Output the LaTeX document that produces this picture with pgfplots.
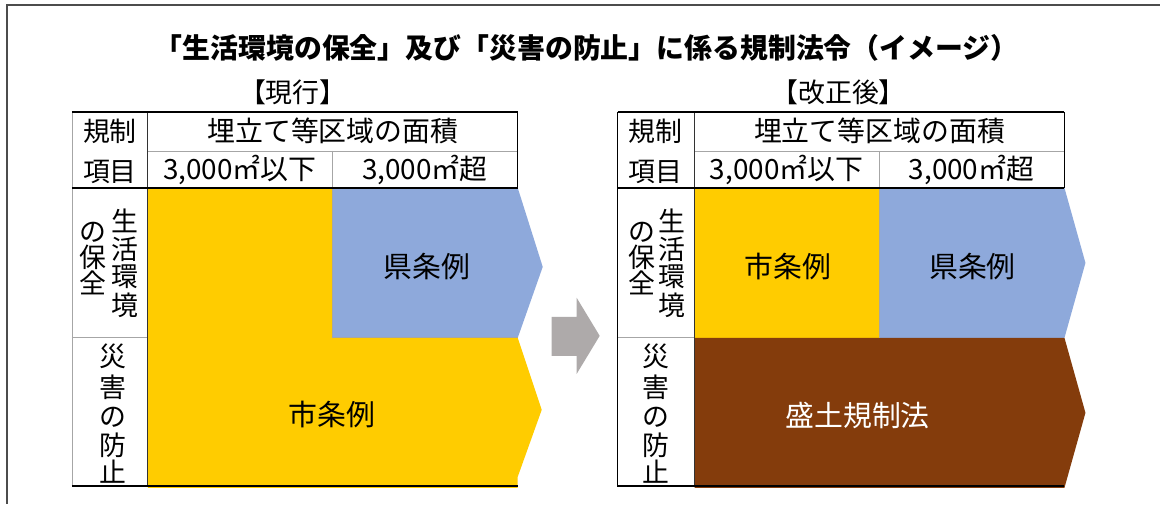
\documentclass[border=0pt]{standalone}
\usepackage{fontspec}
\setmainfont{Noto Sans CJK JP}
\usepackage{pgfplots}
\pgfplotsset{compat=1.18}
\definecolor{kyellow}{HTML}{FFCC00}
\definecolor{kblue}{HTML}{8EA9DB}
\definecolor{kbrown}{HTML}{843C0C}
\definecolor{karrow}{HTML}{AEAAAA}
\definecolor{kgrid}{HTML}{A6A6A6}
\newcommand\tbl{\fontsize{27}{29}\selectfont}
\newcommand\hdr{\fontsize{28}{30}\selectfont}
\newcommand\lbl{\fontsize{29}{31}\selectfont}
\newcommand\ttl{\fontsize{27}{29}\selectfont}

\begin{document}
\begin{tikzpicture}
\begin{axis}[
    scale only axis,
    width=1161bp, height=504bp,
    xmin=0, xmax=1161, ymin=0, ymax=504,
    y dir=reverse,
    hide axis,
    clip=false,
]
% background and outer frame
\addplot[fill=white, draw=none] coordinates {(0,0)(1161,0)(1161,504)(0,504)} -- cycle;
\addplot[draw=black!70, line width=1.2pt] coordinates {(7,504)(7,5)(1161,5)};

% ---- current (left) ----
\addplot[fill=kyellow, draw=none] coordinates {(148,188)(333,188)(333,338)(518,338)(542,410)(518,477)(518,488)(148,488)} -- cycle;
\addplot[fill=kblue, draw=none] coordinates {(333,188)(518,188)(543,267)(518,338)(333,338)} -- cycle;
\addplot[draw=kgrid, line width=0.8pt] coordinates {(333,188)(333,338)(518,338)};
\addplot[draw=kgrid, line width=0.8pt] coordinates {(72,112)(72,487)};
\addplot[draw=kgrid, line width=0.8pt] coordinates {(72,338)(148,338)};
\addplot[draw=kgrid, line width=0.8pt] coordinates {(148,151)(518,151)};
\addplot[draw=kgrid, line width=0.8pt] coordinates {(333,151)(333,188)};
\addplot[draw=black!80, line width=1pt] coordinates {(148,112)(148,487)};
\addplot[draw=black, line width=1pt] coordinates {(518,112)(518,188)};
\addplot[draw=black, line width=1.2pt] coordinates {(72,188)(518,188)};
\addplot[draw=black, line width=2.5pt] coordinates {(72,112)(518,112)};
\addplot[draw=black, line width=2.5pt] coordinates {(72,486)(518,486)};

% ---- arrow ----
\addplot[fill=karrow, draw=none] coordinates {(552,317)(577,317)(577,298)(600,336)(577,374)(577,356)(552,356)} -- cycle;

% ---- revised (right) ----
\addplot[fill=kyellow, draw=none] coordinates {(695,188)(880,188)(880,338)(695,338)} -- cycle;
\addplot[fill=kblue, draw=none] coordinates {(880,188)(1065,188)(1086,263)(1065,338)(880,338)} -- cycle;
\addplot[fill=kbrown, draw=none] coordinates {(695,338)(1065,338)(1086,413)(1065,488)(695,488)} -- cycle;
\addplot[draw=kgrid, line width=0.8pt] coordinates {(880,188)(880,338)};
\addplot[draw=kgrid, line width=0.8pt] coordinates {(618,338)(695,338)};
\addplot[draw=kgrid, line width=0.8pt] coordinates {(695,151)(1065,151)};
\addplot[draw=kgrid, line width=0.8pt] coordinates {(880,151)(880,188)};
\addplot[draw=black, line width=1pt] coordinates {(618,112)(618,487)};
\addplot[draw=black!80, line width=1pt] coordinates {(695,112)(695,487)};
\addplot[draw=black, line width=1pt] coordinates {(1065,112)(1065,188)};
\addplot[draw=black, line width=1.2pt] coordinates {(618,188)(1065,188)};
\addplot[draw=black, line width=2.5pt] coordinates {(618,112)(1065,112)};
\addplot[draw=black, line width=2.5pt] coordinates {(618,486)(1065,486)};

% ---- texts ----
\node[font=\fontsize{28}{30}\selectfont\bfseries] at (axis cs:587,48) {「生活環境の保全」及び「災害の防止」に係る規制法令（イメージ）};
\node[font=\ttl] at (axis cs:293,92) {【現行】};
\node[font=\ttl] at (axis cs:839,92) {【改正後】};

% left table labels
\node[font=\tbl] at (axis cs:110,131) {規制};
\node[font=\tbl] at (axis cs:110,172) {項目};
\node[font=\hdr] at (axis cs:333,131) {埋立て等区域の面積};
\node[font=\hdr] at (axis cs:240,170) {3,000㎡以下};
\node[font=\hdr] at (axis cs:425,170) {3,000㎡超};
\node[font=\tbl] at (axis cs:125,221) {生};
\node[font=\tbl] at (axis cs:125,249) {活};
\node[font=\tbl] at (axis cs:125,277) {環};
\node[font=\tbl] at (axis cs:125,305) {境};
\node[font=\tbl] at (axis cs:93,232) {の};
\node[font=\tbl] at (axis cs:93,257) {保};
\node[font=\tbl] at (axis cs:93,283) {全};
\node[font=\tbl] at (axis cs:113,357) {災};
\node[font=\tbl] at (axis cs:113,387) {害};
\node[font=\tbl] at (axis cs:113,417) {の};
\node[font=\tbl] at (axis cs:113,445) {防};
\node[font=\tbl] at (axis cs:113,472) {止};
\node[font=\lbl] at (axis cs:427,267) {県条例};
\node[font=\lbl] at (axis cs:332,415) {市条例};

% right table labels
\node[font=\tbl] at (axis cs:656,131) {規制};
\node[font=\tbl] at (axis cs:656,172) {項目};
\node[font=\hdr] at (axis cs:880,131) {埋立て等区域の面積};
\node[font=\hdr] at (axis cs:787,170) {3,000㎡以下};
\node[font=\hdr] at (axis cs:972,170) {3,000㎡超};
\node[font=\tbl] at (axis cs:672,221) {生};
\node[font=\tbl] at (axis cs:672,249) {活};
\node[font=\tbl] at (axis cs:672,277) {環};
\node[font=\tbl] at (axis cs:672,305) {境};
\node[font=\tbl] at (axis cs:642,232) {の};
\node[font=\tbl] at (axis cs:642,257) {保};
\node[font=\tbl] at (axis cs:642,283) {全};
\node[font=\tbl] at (axis cs:656,357) {災};
\node[font=\tbl] at (axis cs:656,387) {害};
\node[font=\tbl] at (axis cs:656,417) {の};
\node[font=\tbl] at (axis cs:656,445) {防};
\node[font=\tbl] at (axis cs:656,472) {止};
\node[font=\lbl] at (axis cs:788,267) {市条例};
\node[font=\lbl] at (axis cs:973,267) {県条例};
\node[font=\lbl, text=white] at (axis cs:858,416) {盛土規制法};
\end{axis}
\end{tikzpicture}
\end{document}
